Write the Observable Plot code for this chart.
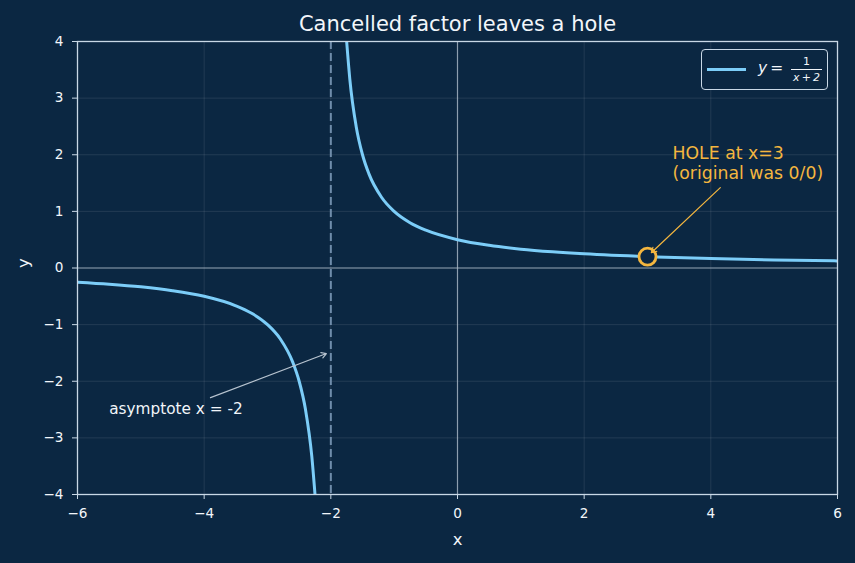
<!DOCTYPE html>
<html>
<head>
<meta charset="utf-8">
<script src="https://cdn.jsdelivr.net/npm/d3@7"></script>
<script src="https://cdn.jsdelivr.net/npm/@observablehq/plot@0.6"></script>
<style>
  html, body { margin: 0; padding: 0; background: #0b2742; }
  #wrap { position: relative; width: 855px; height: 563px; font-family: "DejaVu Sans", sans-serif; }
  #legend {
    position: absolute; left: 701px; top: 49px; width: 127px; height: 41px;
    border: 1.3px solid #c9d8e6; border-radius: 4px; box-sizing: border-box;
    background: #0b2742; color: #f2f6fa;
  }
  #legend .swatch { position: absolute; left: 5px; top: 17.5px; width: 39px; height: 3px; background: #7ccdf8; }
  #legend .eq { position: absolute; left: 56px; top: 9px; font-size: 15.5px; white-space: nowrap; }
  #legend .eq i { font-style: italic; }
  #legend .frac { position: absolute; left: 88px; top: 5px; width: 33px; text-align: center; font-size: 11px; font-style: italic; }
  #legend .num { display: block; line-height: 13px; font-style: normal; }
  #legend .bar { display: block; height: 1px; background: #f2f6fa; margin: 1px 1px; }
  #legend .den { display: block; line-height: 13px; }
</style>
</head>
<body>
<div id="wrap"></div>
<script>
// Branch left of the asymptote x = -2
const leftX = [-6, -5.5, -5, -4.5, -4, -3.5, -3.25, -3, -2.8, -2.6, -2.5, -2.4, -2.3, -2.25];
const leftY = [-0.25, -0.286, -0.333, -0.4, -0.5, -0.667, -0.8, -1, -1.25, -1.667, -2, -2.5, -3.333, -4];
// Branch right of the asymptote
const rightX = [-1.75, -1.7, -1.6, -1.5, -1.4, -1.2, -1, -0.75, -0.5, 0, 0.5, 1, 1.5, 2, 3, 4, 5, 6];
const rightY = [4, 3.333, 2.5, 2, 1.667, 1.25, 1, 0.8, 0.667, 0.5, 0.4, 0.333, 0.286, 0.25, 0.2, 0.167, 0.143, 0.125];
// Removable discontinuity
const holeX = [3];
const holeY = [0.2];
const asymptoteX = [-2];
// Tick values
const xTicks = [-6, -4, -2, 0, 2, 4, 6];
const yTicks = [-4, -3, -2, -1, 0, 1, 2, 3, 4];

const bg = "#0b2742";
const curveColor = "#7ccdf8";
const accent = "#f4b63f";
const ink = "#f2f6fa";
const spine = "#c9d8e6";

const branch = (xs, ys, name) => xs.map((x, i) => ({x, y: ys[i], branch: name}));
const curveData = [...branch(leftX, leftY, "left"), ...branch(rightX, rightY, "right")];
const hole = holeX.map((x, i) => ({x, y: holeY[i]}));
const minus = d => String(d).replace("-", "\u2212");

const chart = Plot.plot({
  width: 855,
  height: 563,
  marginLeft: 77,
  marginRight: 18,
  marginTop: 41,
  marginBottom: 69,
  style: {background: bg, color: ink, fontFamily: "DejaVu Sans, sans-serif", fontSize: "13.5px"},
  x: {domain: [-6, 6]},
  y: {domain: [-4, 4]},
  marks: [
    Plot.gridX(xTicks, {stroke: "#ffffff", strokeOpacity: 0.12, strokeWidth: 0.8}),
    Plot.gridY(yTicks, {stroke: "#ffffff", strokeOpacity: 0.12, strokeWidth: 0.8}),
    Plot.ruleX([0], {stroke: "#a9b8c7", strokeOpacity: 0.8, strokeWidth: 1.2}),
    Plot.ruleY([0], {stroke: "#a9b8c7", strokeOpacity: 0.8, strokeWidth: 1.2}),
    Plot.ruleX(asymptoteX, {stroke: "#6f8cab", strokeWidth: 2, strokeDasharray: "8,4"}),
    Plot.line(curveData, {x: "x", y: "y", z: "branch", stroke: curveColor, strokeWidth: 3, curve: "monotone-x", clip: true}),
    Plot.dot(hole, {x: "x", y: "y", r: 8.5, stroke: accent, strokeWidth: 2.8, fill: bg}),
    Plot.arrow([{x1: 4.15, y1: 1.42, x2: 3.06, y2: 0.27}], {x1: "x1", y1: "y1", x2: "x2", y2: "y2", stroke: accent, strokeWidth: 1.2, headLength: 7}),
    Plot.text(["HOLE at x=3\n(original was 0/0)"], {x: 3.395, y: 2.18, textAnchor: "start", lineAnchor: "top", lineHeight: 1.17, fill: accent, fontSize: 17.3}),
    Plot.arrow([{x1: -3.9, y1: -2.29, x2: -2.07, y2: -1.51}], {x1: "x1", y1: "y1", x2: "x2", y2: "y2", stroke: "#b7c3cf", strokeWidth: 1.2, headLength: 7}),
    Plot.text(["asymptote x = -2"], {x: -5.5, y: -2.5, textAnchor: "start", fill: ink, fontSize: 15.3}),
    Plot.frame({stroke: spine, strokeWidth: 1.3}),
    Plot.axisX(xTicks, {tickSize: 5, tickPadding: 9, tickFormat: minus, stroke: spine, fill: ink, label: null, fontSize: 13.6}),
    Plot.axisY(yTicks, {tickSize: 5, tickPadding: 9, tickFormat: minus, stroke: spine, fill: ink, label: null, fontSize: 13.6}),
    Plot.text(["Cancelled factor leaves a hole"], {frameAnchor: "top", dy: -25, fill: ink, fontSize: 21}),
    Plot.text(["x"], {frameAnchor: "bottom", dy: 50, fill: ink, fontSize: 16.5}),
    Plot.text(["y"], {frameAnchor: "left", dx: -54, rotate: -90, fill: ink, fontSize: 16.5})
  ]
});

const wrap = document.getElementById("wrap");
wrap.appendChild(chart);

// Legend entry for the curve
const legend = document.createElement("div");
legend.id = "legend";
legend.innerHTML =
  '<span class="swatch"></span>' +
  '<span class="eq"><i>y</i>\u2009=</span>' +
  '<span class="frac"><span class="num">1</span><span class="bar"></span><span class="den">x\u2009+\u20092</span></span>';
wrap.appendChild(legend);
</script>
</body>
</html>
